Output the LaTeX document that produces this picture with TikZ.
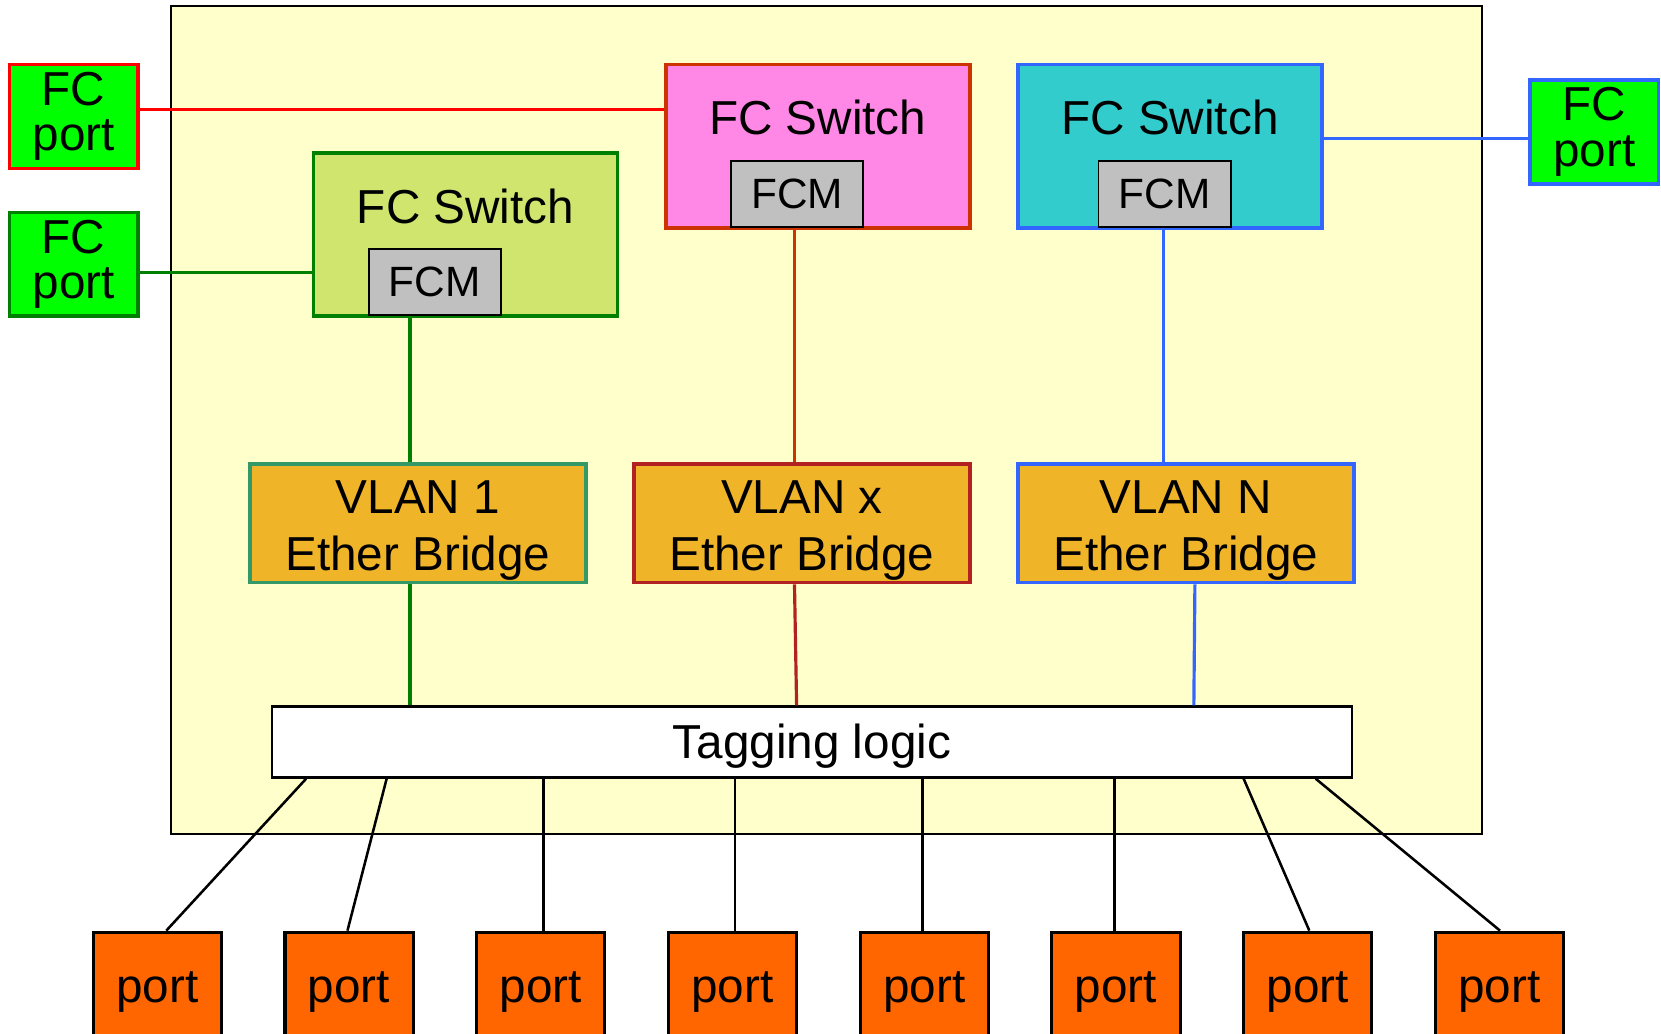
\documentclass[tikz,border=0pt]{standalone}
\usepackage{fontspec}
\setmainfont{Liberation Sans}

\definecolor{cardyellow}{RGB}{255,255,204}
\definecolor{fcgreen}{RGB}{0,255,0}
\definecolor{linkred}{RGB}{255,0,0}
\definecolor{linkgreen}{RGB}{0,128,0}
\definecolor{linkblue}{RGB}{51,102,255}
\definecolor{linkorange}{RGB}{204,51,0}
\definecolor{swgreen}{RGB}{207,229,110}
\definecolor{swpink}{RGB}{255,136,230}
\definecolor{swcyan}{RGB}{51,204,204}
\definecolor{fcmgray}{RGB}{192,192,192}
\definecolor{vlanfill}{RGB}{240,180,40}
\definecolor{vlansea}{RGB}{51,153,102}
\definecolor{vlanred}{RGB}{178,34,34}
\definecolor{portorange}{RGB}{255,102,0}

\tikzset{
  card/.style={draw, fill=cardyellow, line width=0.9pt, minimum width=619pt, minimum height=390.5pt},
  fcport/.style={draw, fill=fcgreen, line width=1.7pt, minimum width=60.5pt, minimum height=49pt,
    inner sep=0pt, align=center, font=\fontsize{22.5}{21.4}\selectfont},
  switchbox/.style={draw, line width=1.7pt, minimum width=143.5pt, minimum height=77pt},
  swlabel/.style={anchor=base, yshift=-34pt},
  fcmbox/.style={draw, fill=fcmgray, line width=0.9pt, minimum width=62.5pt, minimum height=31pt,
    inner sep=0pt, font=\fontsize{20}{24}\selectfont},
  vlanbox/.style={draw, fill=vlanfill, line width=1.7pt, minimum width=158.5pt, minimum height=56pt,
    inner sep=0pt, align=center, text height=49.5pt, font=\fontsize{22.5}{27}\selectfont},
  tagbox/.style={draw, fill=white, line width=1.1pt, minimum width=509.5pt, minimum height=33.5pt,
    inner sep=0pt, text height=20.4pt},
  portbox/.style={draw, fill=portorange, line width=1.5pt, minimum width=60.5pt, minimum height=56.5pt},
  link/.style={line width=1.5pt},
  wire/.style={line width=1.2pt}
}

\begin{document}
\begin{tikzpicture}[x=0.5pt,y=-0.5pt,font=\fontsize{22.5}{26}\selectfont]
\useasboundingbox (0,0) rectangle (1568,976);

% switch card
\node[card] (card) at (780,396.5) {};

% FC ports
\node[fcport, draw=linkred] (fcportA) at (69.5,110) {FC\\port};
\node[fcport, draw=linkgreen] (fcportB) at (69.5,249.5) {FC\\port};
\node[fcport, draw=linkblue] (fcportC) at (1505,124.5) {FC\\port};

% FC switches
\node[switchbox, fill=swgreen, draw=linkgreen,
  label={[swlabel, name=swGtext]north:FC Switch}] (swG) at (439.5,221.5) {};
\node[switchbox, fill=swpink, draw=linkorange,
  label={[swlabel, name=swPtext]north:FC Switch}] (swP) at (772,138) {};
\node[switchbox, fill=swcyan, draw=linkblue,
  label={[swlabel, name=swCtext]north:FC Switch}] (swC) at (1104.5,138) {};

% FCMs
\node[fcmbox, anchor=south] (fcmG) at (410.5,298) {FCM};
\node[fcmbox, anchor=south] (fcmP) at (752.5,215) {FCM};
\node[fcmbox, anchor=south] (fcmC) at (1099.5,215) {FCM};

% ether bridges
\node[vlanbox, draw=vlansea] (vlan1) at (394.5,494) {VLAN 1\\Ether Bridge};
\node[vlanbox, draw=vlanred] (vlanx) at (757,494) {VLAN x\\Ether Bridge};
\node[vlanbox, draw=linkblue] (vlanN) at (1119.5,494) {VLAN N\\Ether Bridge};

% tagging logic
\node[tagbox] (tag) at (766.5,700.5) {Tagging logic};

% ports
\foreach \i in {1,...,8}
  \node[portbox] (port\i) at ({148.5+181*(\i-1)},936.5) {port};

% helper coordinates
\coordinate (yR) at (0,103);
\coordinate (yG) at (0,257);
\coordinate (yB) at (0,131);
\coordinate (xG) at (387,0);
\coordinate (xP) at (750,0);
\coordinate (xQ) at (752,0);
\coordinate (xC) at (1098,0);
\coordinate (xN) at (1128,0);
\coordinate (xM) at (1127,0);

% FC links
\draw[link, linkred] (fcportA.east |- yR) -- (swP.west |- yR);
\draw[link, linkgreen] (fcportB.east |- yG) -- (swG.west |- yG);
\draw[link, linkblue] (swC.east |- yB) -- (fcportC.west |- yB);

% FCM to bridge
\draw[link, linkgreen] (fcmG.south -| xG) -- (vlan1.north -| xG);
\draw[link, linkorange] (fcmP.south -| xP) -- (vlanx.north -| xP);
\draw[link, linkblue] (fcmC.south -| xC) -- (vlanN.north -| xC);

% bridge to tagging
\draw[link, linkgreen] (vlan1.south -| xG) -- (tag.north -| xG);
\draw[link, vlanred] (vlanx.south -| xP) -- (tag.north -| xQ);
\draw[link, linkblue] (vlanN.south -| xN) -- (tag.north -| xM);

% tagging to ports
\foreach \a/\b [count=\i] in {289/157,365/328,513/513,694/694,871/871,1052/1052,1174/1236,1242/1416}
  \draw[wire] (tag.south -| \a,0) -- (port\i.north -| \b,0);

\end{tikzpicture}
\end{document}
